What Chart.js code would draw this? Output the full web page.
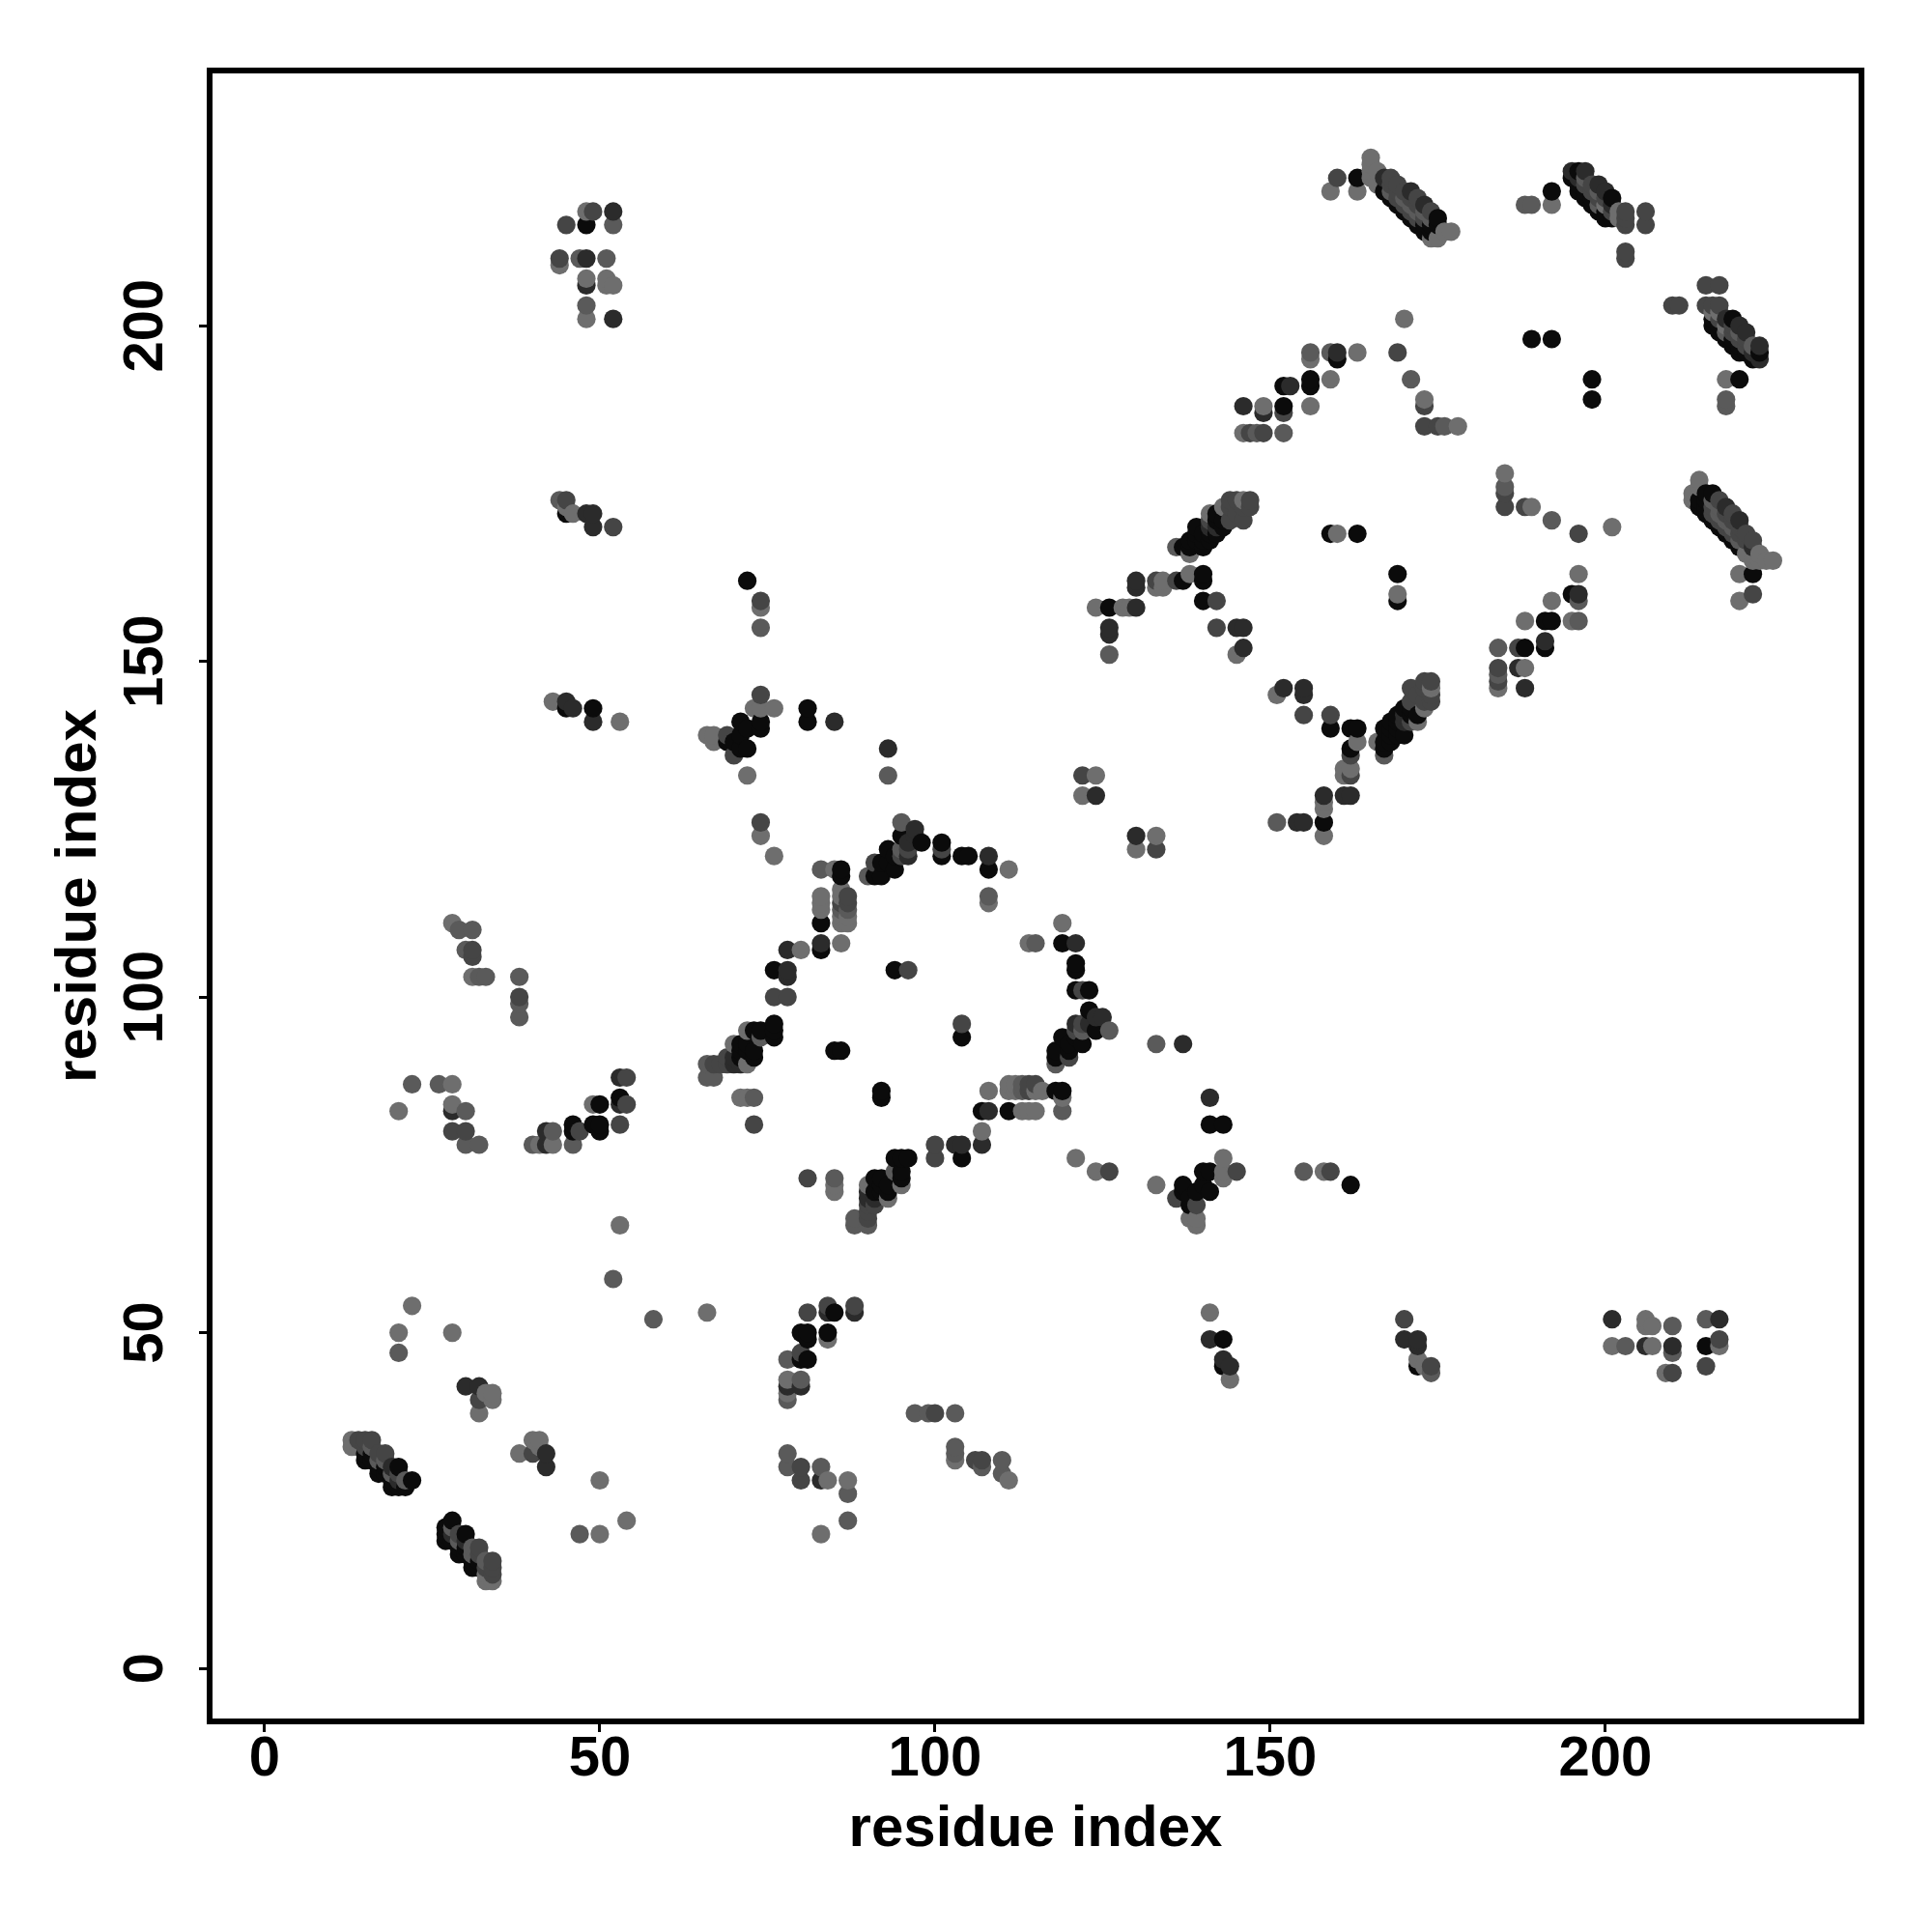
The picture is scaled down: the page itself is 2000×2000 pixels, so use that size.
<!DOCTYPE html>
<html>
<head>
<meta charset="utf-8">
<title>residue contact map</title>
<script src="https://cdn.jsdelivr.net/npm/chart.js@4"></script>
<style>
  html, body { margin: 0; padding: 0; background: #fff; }
  canvas { display: block; }
</style>
</head>
<body>
<canvas id="contactChart" width="2000" height="2000"></canvas>
<script>
// residue pairs [i, j] with i < j, grouped by how dark the dot is.
// the map is symmetric, each pair shows up as (i,j) and (j,i)
const blackPairs = [[15,31],[16,31],[15,32],[16,32],[17,30],[18,30],[17,29],[18,29],[19,28],[19,27],[20,27],[21,27],[20,30],[22,28],
  [46,81],[46,80],[49,81],[50,81],[50,80],[50,84],[53,85],[45,143],[49,143],[45,172],[48,215],
  [71,91],[71,92],[71,93],[72,92],[72,93],[73,91],[73,92],[73,95],[74,95],[76,94],[76,95],[76,96],[85,92],[86,92],[76,104],[83,107],[83,111],[86,118],[86,119],
  [91,118],[92,118],[92,120],[93,120],[93,122],[94,119],[94,121],[95,124],[98,123],[101,123],[101,121],[104,121],[105,121],[108,119],[94,104],
  [81,143],[81,141],[74,141],[74,140],[71,141],[71,139],[70,138],[69,138],[71,137],[72,137],[72,140],[72,162],
  [126,158],[137,162],[140,163],[140,162],[140,159],[137,167],[138,167],[138,168],[139,168],[139,169],[139,170],[140,167],[140,168],[140,169],[141,168],[141,169],[142,169],[142,171],[142,172],[143,170],[143,171],
  [159,169],[163,169],[152,188],[152,191],[156,191],[156,192],[160,195],
  [163,222],[168,219],[167,220],[169,218],[170,217],[171,216],[172,215],[173,214],[173,215],[174,214],[174,215],[175,215],[175,216],
  [192,220],[196,220],[196,221],[197,219],[197,220],[198,218],[198,219],[199,217],[200,216],[200,217],[201,216],[201,219],[189,198],[192,198],[196,223],[195,222]];

const darkPairs = [[19,30],[20,28],[30,42],[32,42],[28,83],[42,78],[42,80],[53,84],[53,88],[45,144],[46,143],[49,141],[48,172],[49,172],[49,170],[48,210],[48,206],[52,217],[52,201],
  [70,90],[70,91],[71,90],[78,103],[78,104],[78,107],[83,108],[96,121],[96,123],[97,124],[97,125],[108,121],[85,141],[93,137],
  [124,130],[126,154],[126,155],[130,158],[130,161],[130,162],[145,155],[146,155],[146,152],[141,170],[142,170],[146,188],[149,187],[153,191],[160,196],
  [167,222],[171,220],[173,218],[195,223],[197,223],[201,218],[199,221],[196,222],[200,220]];

const midPairs = [[14,34],[15,34],[16,34],[15,33],[17,32],[18,32],[20,29],[32,40],[28,80],[30,80],[31,107],[31,106],[38,100],[47,80],[53,81],[54,84],[54,88],[67,90],[68,90],[69,90],[69,91],
  [73,81],[74,126],[74,159],[74,145],[69,139],[70,136],[45,215],[49,217],[44,210],[45,174],[52,170],[76,100],[78,100],[87,115],[87,114],[86,114],[96,122],[91,120],[95,121],[96,104],[101,122],
  [122,133],[133,162],[136,162],[144,174],[144,173],[145,174],[146,173],[147,173],[147,174],[145,172],[146,171],[144,171],[141,171],[142,155],[142,159],[147,184],[149,184],[152,187],
  [160,222],[168,222],[169,221],[170,220],[172,219],[174,217],[169,196],[173,188],[173,185],[175,185],[198,220],[203,215],[203,216],[203,217],[206,215],[206,217],[203,210],[203,211],
  [168,221],[169,219],[169,220],[170,218],[171,217],[171,219],[172,216],[172,218],[173,216],[197,221],[198,221],[199,219],[200,219],[201,217]];

const grayPairs = [[16,33],[18,31],[19,29],[21,28],[20,47],[29,110],[31,110],[30,107],[32,103],[33,103],[38,103],[38,99],[38,97],[22,87],[26,87],[30,83],[30,78],[32,78],[40,78],[43,80],[46,78],
  [66,88],[67,88],[66,90],[73,85],[74,94],[74,155],[83,119],[86,113],[87,113],[108,115],[93,133],[95,122],[90,118],[95,126],[48,203],[44,174],[47,210],[51,210],[52,215],
  [126,151],[148,184],[152,184],[156,196],[159,196],[171,192],[176,185],[188,218],[189,218],[136,167],[52,58],
  [17,31],[168,220],[170,219],[171,218],[172,217],[173,217],[174,216],[197,222],[199,218],[199,220]];

const lightPairs = [[13,34],[13,33],[14,33],[22,54],[20,50],[28,50],[53,66],[33,41],[34,41],[34,40],[32,38],[28,111],[31,103],[20,83],[28,87],[28,84],[41,78],[43,78],[49,84],[71,85],[72,85],[70,93],[72,90],[72,95],
  [73,143],[74,143],[76,143],[43,144],[46,172],[45,173],[53,141],[66,139],[67,139],[67,138],[72,133],[74,158],[74,124],[76,121],[85,119],[83,113],[83,114],[83,115],[86,108],[86,111],[87,111],[86,112],[87,112],[86,115],[86,116],[80,107],[108,114],[111,119],
  [44,209],[48,217],[48,207],[51,207],[51,206],[52,206],[48,201],[122,130],[124,133],[124,158],[128,158],[129,158],[133,161],[134,161],[134,162],[138,163],[138,166],[145,151],[141,172],[143,173],[146,174],[146,184],[149,188],[156,188],[156,195],[159,192],[160,169],[163,196],[170,201],[173,189],[178,185],
  [159,220],[163,220],[165,222],[165,223],[165,224],[165,225],[166,221],[166,223],[174,213],[175,213],[176,214],[177,214],[192,218],[202,217],[200,218],[202,216]];

const tickValues = [0, 50, 100, 150, 200];
const axisName = "residue index";

const shades = [
  [blackPairs, "#0b0b0b"],
  [darkPairs, "#2b2b2b"],
  [midPairs, "#454545"],
  [grayPairs, "#5a5a5a"],
  [lightPairs, "#6e6e6e"]
];

let points = [];
shades.forEach(([pairs, color]) => {
  pairs.forEach(([i, j]) => {
    points.push({ x: i, y: j, color: color });
    points.push({ x: j, y: i, color: color });
  });
});
// later residues are painted over earlier ones
points.sort((a, b) => a.x - b.x || a.y - b.y);

const tickFont = { family: "'Liberation Sans', Arial, sans-serif", size: 58, weight: "bold" };
const titleFont = { family: "'Liberation Sans', Arial, sans-serif", size: 60, weight: "bold" };

const frame = {
  id: "frame",
  afterDraw(chart) {
    const a = chart.chartArea;
    const c = chart.ctx;
    c.save();
    c.strokeStyle = "#000";
    c.lineWidth = 6;
    c.strokeRect(a.left, a.top, a.right - a.left, a.bottom - a.top);
    c.restore();
  }
};

const axisGrid = { drawOnChartArea: false, drawTicks: true, tickLength: 11, tickWidth: 3, tickColor: "#000" };

new Chart(document.getElementById("contactChart"), {
  type: "scatter",
  data: {
    datasets: [{
      label: "contacts",
      data: points,
      pointRadius: 9.6,
      pointHoverRadius: 9.6,
      pointBorderWidth: 0,
      pointBackgroundColor: points.map(p => p.color)
    }]
  },
  options: {
    responsive: false,
    animation: false,
    layout: { padding: { top: 73, right: 73, left: 0, bottom: 0 } },
    plugins: { legend: { display: false }, tooltip: { enabled: false } },
    scales: {
      x: {
        type: "linear",
        min: -8.2,
        max: 238.2,
        afterBuildTicks: s => { s.ticks = tickValues.map(v => ({ value: v })); },
        afterFit: s => { s.height = 218; },
        border: { display: false },
        grid: axisGrid,
        ticks: { color: "#000", font: tickFont, padding: -6, maxRotation: 0, autoSkip: false },
        title: { display: true, text: axisName, color: "#000", font: titleFont, padding: { top: 0, bottom: 70 } }
      },
      y: {
        type: "linear",
        min: -7.9,
        max: 238.0,
        afterBuildTicks: s => { s.ticks = tickValues.map(v => ({ value: v })); },
        afterFit: s => { s.width = 217; },
        border: { display: false },
        grid: axisGrid,
        ticks: { color: "#000", font: tickFont, padding: 6, minRotation: 90, maxRotation: 90, crossAlign: "center", autoSkip: false },
        title: { display: true, text: axisName, color: "#000", font: titleFont, padding: { top: 46, bottom: 0 } }
      }
    }
  },
  plugins: [frame]
});
</script>
</body>
</html>
